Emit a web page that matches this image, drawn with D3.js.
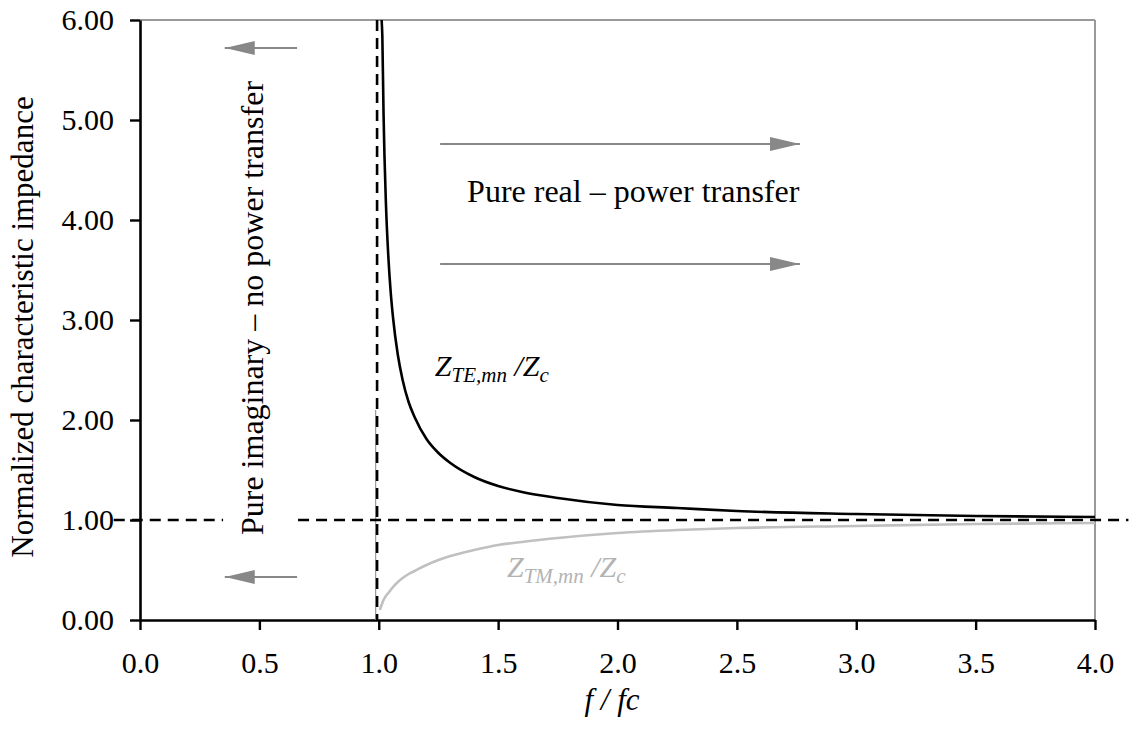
<!DOCTYPE html>
<html>
<head>
<meta charset="utf-8">
<script src="https://cdn.jsdelivr.net/npm/d3@7"></script>
<style>
  html, body { margin: 0; padding: 0; background: #fff; }
  svg, svg text { font-family: "Liberation Serif", "Times New Roman", "DejaVu Serif", serif !important; }
  svg { display: block; }
</style>
</head>
<body>
<svg id="chart" width="1131" height="738"></svg>
<script>
// ---- data ----
const freqRatio = [1.012, 1.015, 1.02, 1.03, 1.04, 1.05, 1.06, 1.08, 1.10, 1.125, 1.15, 1.2, 1.25, 1.3, 1.4, 1.5, 1.6, 1.75, 2.0, 2.25, 2.5, 3.0, 3.5, 4.0];
const zTE = [6.00, 5.84, 5.07, 4.17, 3.64, 3.28, 3.02, 2.65, 2.40, 2.18, 2.03, 1.81, 1.67, 1.57, 1.43, 1.34, 1.28, 1.22, 1.15, 1.12, 1.09, 1.06, 1.04, 1.03];
const freqRatioTM = [1.005, 1.008, 1.012, 1.015, 1.02, 1.03, 1.04, 1.05, 1.06, 1.08, 1.10, 1.125, 1.15, 1.2, 1.25, 1.3, 1.4, 1.5, 1.6, 1.75, 2.0, 2.25, 2.5, 3.0, 3.5, 4.0];
const zTM = [0.10, 0.126, 0.15, 0.17, 0.20, 0.24, 0.27, 0.30, 0.33, 0.38, 0.42, 0.46, 0.49, 0.55, 0.60, 0.64, 0.70, 0.75, 0.78, 0.82, 0.87, 0.90, 0.92, 0.94, 0.96, 0.97];
const xTicks = [0.0, 0.5, 1.0, 1.5, 2.0, 2.5, 3.0, 3.5, 4.0];
const yTicks = [0, 1, 2, 3, 4, 5, 6];
const cutoffX = 0.993;          // f/fc = 1 cutoff marker
const unityY = 1.0;             // Z/Zc = 1 reference
const leftArrowsY = [5.72, 0.43];
const rightArrowsY = [4.76, 3.56];
const leftArrowX = [0.658, 0.355];   // tail, tip
const rightArrowX = [1.257, 2.764];  // tail, tip

// ---- layout ----
const FONT = '"Liberation Serif", "Times New Roman", "DejaVu Serif", serif';
const svg = d3.select("#chart");
const m = { left: 140, right: 1095, top: 20, bottom: 620 };
const x = d3.scaleLinear().domain([0, 4]).range([m.left, m.right]);
const y = d3.scaleLinear().domain([0, 6]).range([m.bottom, m.top]);

// plot frame top/right (gray)
svg.append("line").attr("x1", m.left).attr("x2", m.right).attr("y1", m.top).attr("y2", m.top)
  .attr("stroke", "#999").attr("stroke-width", 2);
svg.append("line").attr("x1", m.right).attr("x2", m.right).attr("y1", m.top).attr("y2", m.bottom)
  .attr("stroke", "#999").attr("stroke-width", 2);

// axes
const xAxis = d3.axisBottom(x).tickValues(xTicks).tickFormat(d3.format(".1f")).tickSizeInner(10).tickSizeOuter(0).tickPadding(22);
const yAxis = d3.axisLeft(y).tickValues(yTicks).tickFormat(d3.format(".2f")).tickSizeInner(10).tickSizeOuter(0).tickPadding(16);

const gx = svg.append("g").attr("transform", `translate(0,${m.bottom})`).call(xAxis);
const gy = svg.append("g").attr("transform", `translate(${m.left},0)`).call(yAxis);
[gx, gy].forEach(g => {
  g.attr("font-family", null).attr("font-size", null);
  g.select(".domain").attr("stroke", "#000").attr("stroke-width", 2.6);
  g.selectAll(".tick line").attr("stroke", "#000").attr("stroke-width", 2.4);
  g.selectAll(".tick text").attr("fill", "#000").style("font-size", "30px")
    .style("font-family", FONT);
});

// thin gray line at cutoff
svg.append("line")
  .attr("x1", x(0.987)).attr("x2", x(0.987)).attr("y1", y(0)).attr("y2", y(2.1))
  .attr("stroke", "#999").attr("stroke-width", 1.2);

// dashed reference lines
svg.append("line")
  .attr("x1", x(cutoffX)).attr("x2", x(cutoffX)).attr("y1", y(6)).attr("y2", y(0))
  .attr("stroke", "#000").attr("stroke-width", 2.6).attr("stroke-dasharray", "11,7");
svg.append("line")
  .attr("x1", x(-0.11)).attr("x2", x(0.348)).attr("y1", y(unityY)).attr("y2", y(unityY))
  .attr("stroke", "#000").attr("stroke-width", 2.6).attr("stroke-dasharray", "11,7");
svg.append("line")
  .attr("x1", x(0.662)).attr("x2", x(4.14)).attr("y1", y(unityY)).attr("y2", y(unityY))
  .attr("stroke", "#000").attr("stroke-width", 2.6).attr("stroke-dasharray", "11,7");

// curves
const line = d3.line().curve(d3.curveMonotoneX);
svg.append("path")
  .attr("d", line(freqRatioTM.map((f, i) => [x(f), y(zTM[i])])))
  .attr("fill", "none").attr("stroke", "#c0c0c0").attr("stroke-width", 2.6);
svg.append("path")
  .attr("d", line(freqRatio.map((f, i) => [x(f), y(zTE[i])])))
  .attr("fill", "none").attr("stroke", "#000").attr("stroke-width", 2.6);

// arrows
const defs = svg.append("defs");
defs.append("marker").attr("id", "ah").attr("viewBox", "0 0 30 14")
  .attr("refX", 30).attr("refY", 7).attr("markerWidth", 30).attr("markerHeight", 14)
  .attr("markerUnits", "userSpaceOnUse").attr("orient", "auto")
  .append("path").attr("d", "M0,0 L30,7 L0,14 Z").attr("fill", "#888");

leftArrowsY.forEach(v => {
  svg.append("line").attr("x1", x(leftArrowX[0])).attr("x2", x(leftArrowX[1]))
    .attr("y1", y(v)).attr("y2", y(v))
    .attr("stroke", "#888").attr("stroke-width", 2).attr("marker-end", "url(#ah)");
});
rightArrowsY.forEach(v => {
  svg.append("line").attr("x1", x(rightArrowX[0])).attr("x2", x(rightArrowX[1]))
    .attr("y1", y(v)).attr("y2", y(v))
    .attr("stroke", "#888").attr("stroke-width", 2).attr("marker-end", "url(#ah)");
});

// annotations
svg.append("text").attr("x", x(1.37)).attr("y", y(4.18))
  .style("font-size", "32px").attr("fill", "#000").text("Pure real – power transfer");

svg.append("text")
  .attr("transform", `translate(${x(0.515)},${y(3.12)}) rotate(-90)`)
  .attr("text-anchor", "middle").style("font-size", "32px").attr("fill", "#000")
  .text("Pure imaginary – no power transfer");

function zLabel(px, py, sub, color) {
  const t = svg.append("text").attr("x", px).attr("y", py)
    .style("font-size", "30px").attr("fill", color).style("font-style", "italic");
  t.append("tspan").text("Z");
  t.append("tspan").style("font-size", "21px").attr("dy", 6).text(sub);
  t.append("tspan").attr("dy", -6).text(" /Z");
  t.append("tspan").style("font-size", "21px").attr("dy", 6).text("c");
}
zLabel(x(1.235), y(2.44), "TE,mn", "#000");
zLabel(x(1.537), y(0.43), "TM,mn", "#b3b3b3");

// axis titles
svg.append("text")
  .attr("transform", `translate(33,${y(2.93)}) rotate(-90)`)
  .attr("text-anchor", "middle").style("font-size", "31px").attr("fill", "#000")
  .text("Normalized characteristic impedance");

svg.append("text").attr("x", 612).attr("y", 710)
  .attr("text-anchor", "middle").style("font-size", "31px").style("font-style", "italic").attr("fill", "#000")
  .text("f / fc");
</script>
</body>
</html>
